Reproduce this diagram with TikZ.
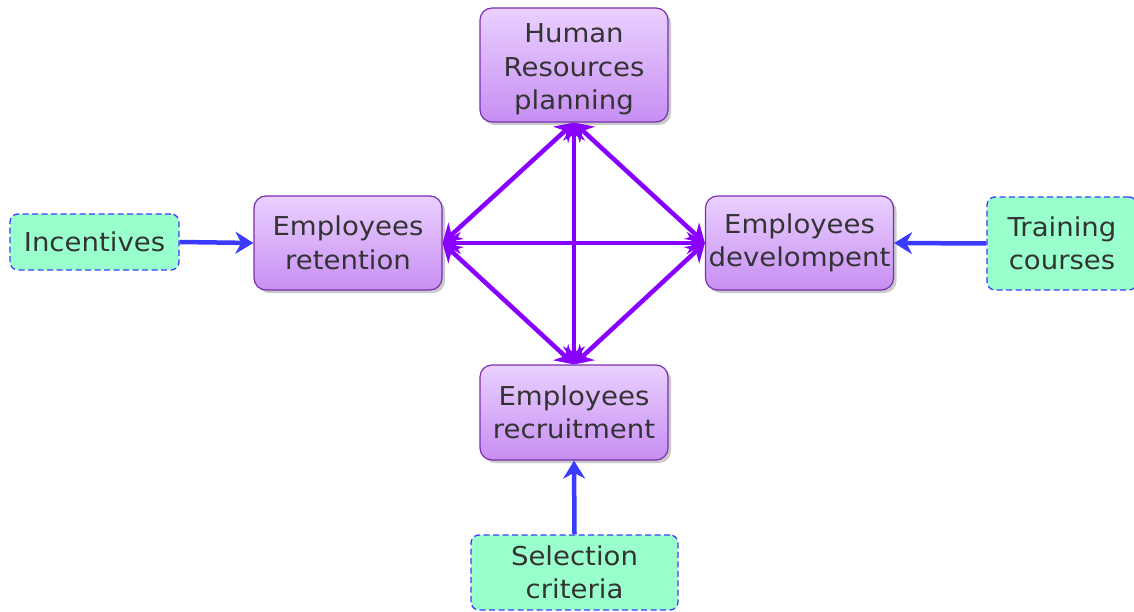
\documentclass[tikz,border=0pt]{standalone}
\usepackage{fontspec}
\setmainfont[FakeStretch=1.06]{DejaVu Sans}
\usetikzlibrary{arrows.meta,shadows}
\definecolor{pborder}{HTML}{7A2FB0}
\definecolor{ptop}{HTML}{EAD0FF}
\definecolor{pbot}{HTML}{C78EF2}
\definecolor{parrow}{HTML}{8800FF}
\definecolor{barrow}{HTML}{3B3BFF}
\definecolor{gfill}{HTML}{99FFCC}
\definecolor{txt}{HTML}{333333}
\tikzset{
  pbox/.style={rectangle, rounded corners=12pt, draw=pborder, line width=1.2pt,
    top color=ptop, bottom color=pbot, minimum width=188pt, inner sep=0pt,
    align=center, text=txt, font=\fontsize{26}{33.5}\selectfont,
    drop shadow={shadow xshift=3pt, shadow yshift=-3pt, fill=black!35, opacity=0.6}},
  gbox/.style={rectangle, rounded corners=8pt, draw=barrow, dash pattern=on 6pt off 3.5pt, line width=1.3pt,
    fill=gfill, inner sep=0pt, align=center, text=txt, font=\fontsize{26}{33.5}\selectfont},
  parr/.style={draw=parrow, line width=4.5pt, {Stealth[length=18pt,width=22pt]}-{Stealth[length=18pt,width=22pt]}},
  barr/.style={draw=barrow, line width=4.5pt, -{Stealth[length=18pt,width=22pt]}},
}
\begin{document}
\begin{tikzpicture}[x=1pt,y=-1pt]
\useasboundingbox (0,0) rectangle (1134,612);
\node[pbox, minimum height=114pt] (hr) at (574,65) {\rule{0pt}{28pt}Human\\Resources\\planning};
\node[pbox, minimum height=94pt] (ret) at (348,243) {Employees\\retention};
\node[pbox, minimum height=94pt] (dev) at (799.5,243) {Employees\\develompent};
\node[pbox, minimum height=95pt] (rec) at (574,412.5) {Employees\\recruitment};
\node[gbox, minimum width=169pt, minimum height=56pt] (inc) at (94.5,242) {Incentives};
\node[gbox, minimum width=150pt, minimum height=93pt] (tra) at (1062,243.5) {Training\\courses};
\node[gbox, minimum width=207pt, minimum height=75pt] (sel) at (574.5,572.5) {Selection\\criteria};
\draw[parr] (hr.south) -- (ret.east);
\draw[parr] (hr.south) -- (dev.west);
\draw[parr] (hr.south) -- (rec.north);
\draw[parr] (ret.east) -- (dev.west);
\draw[parr] (ret.east) -- (rec.north);
\draw[parr] (dev.west) -- (rec.north);
\draw[barr] (inc.east) -- (ret.west);
\draw[barr] (tra.west) -- (dev.east);
\draw[barr] (sel.north) -- (rec.south);
\end{tikzpicture}
\end{document}
